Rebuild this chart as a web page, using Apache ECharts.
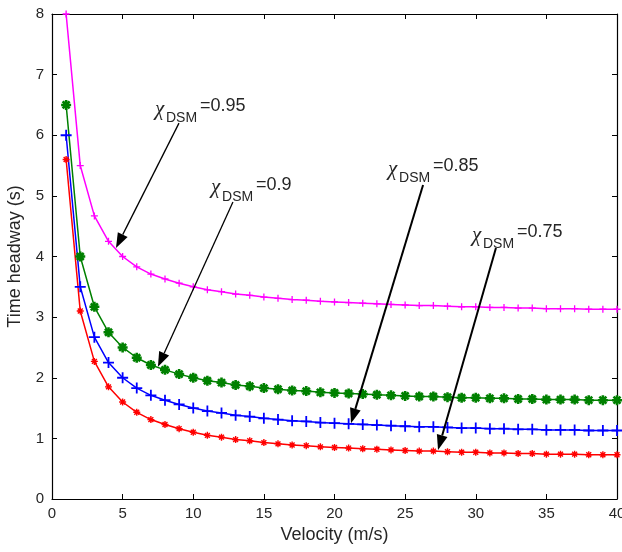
<!DOCTYPE html>
<html>
<head>
<meta charset="utf-8">
<script src="https://cdn.jsdelivr.net/npm/echarts@6/dist/echarts.min.js"></script>
<style>html,body{margin:0;padding:0;background:#fff;}#c{width:622px;height:552px;}</style>
</head>
<body>
<div id="c"></div>
<script>
// Velocity (m/s)
const velocity = [1,2,3,4,5,6,7,8,9,10,11,12,13,14,15,16,17,18,19,20,21,22,23,24,25,26,27,28,29,30,31,32,33,34,35,36,37,38,39,40];
// Time headway (s), chi_DSM = 0.95 (magenta)
const h095 = [8.00,5.50,4.67,4.25,4.00,3.83,3.71,3.63,3.56,3.50,3.45,3.42,3.38,3.36,3.33,3.31,3.29,3.28,3.26,3.25,3.24,3.23,3.22,3.21,3.20,3.19,3.19,3.18,3.17,3.17,3.16,3.16,3.15,3.15,3.14,3.14,3.14,3.13,3.13,3.13];
// chi_DSM = 0.9 (green)
const h090 = [6.50,4.00,3.17,2.75,2.50,2.33,2.21,2.13,2.06,2.00,1.95,1.92,1.88,1.86,1.83,1.81,1.79,1.78,1.76,1.75,1.74,1.73,1.72,1.71,1.70,1.69,1.69,1.68,1.67,1.67,1.66,1.66,1.65,1.65,1.64,1.64,1.64,1.63,1.63,1.63];
// chi_DSM = 0.85 (blue)
const h085 = [6.00,3.50,2.67,2.25,2.00,1.83,1.71,1.63,1.56,1.50,1.45,1.42,1.38,1.36,1.33,1.31,1.29,1.28,1.26,1.25,1.24,1.23,1.22,1.21,1.20,1.19,1.19,1.18,1.17,1.17,1.16,1.16,1.15,1.15,1.14,1.14,1.14,1.13,1.13,1.13];
// chi_DSM = 0.75 (red)
const h075 = [5.60,3.10,2.27,1.85,1.60,1.43,1.31,1.23,1.16,1.10,1.05,1.02,0.98,0.96,0.93,0.91,0.89,0.88,0.86,0.85,0.84,0.83,0.82,0.81,0.80,0.79,0.79,0.78,0.77,0.77,0.76,0.76,0.75,0.75,0.74,0.74,0.74,0.73,0.73,0.73];

// Annotations: label, label anchor [x,y], arrow start [x,y], arrow tip [x,y] (data units)
const annLabels = ['=0.95', '=0.9', '=0.85', '=0.75'];
const annText = [[7.29, 6.48], [11.26, 5.18], [23.79, 5.49], [29.73, 4.40]];
const annStart = [[8.99, 6.20], [12.81, 4.90], [26.27, 5.18], [31.43, 4.14]];
const annTip = [[4.53, 4.14], [7.50, 2.18], [21.17, 1.25], [27.33, 0.81]];
const annWidth = [1.3, 1.3, 2, 2];

const FONT = '"Liberation Sans", Arial, sans-serif';
const plusPath = 'path://M5,0L5,10M0,5L10,5';
const starPath = 'path://M5,0L5,10M0,5L10,5M1.5,1.5L8.5,8.5M8.5,1.5L1.5,8.5';

function pairs(ys) { return velocity.map((v, i) => [v, ys[i]]); }

function mkSeries(name, ys, color, symbol, size, bw) {
  return {
    name: name, type: 'line', data: pairs(ys),
    xAxisIndex: 0, yAxisIndex: 0,
    symbol: symbol, symbolSize: size, showSymbol: true,
    lineStyle: { color: color, width: 1.5 },
    itemStyle: { color: color, borderColor: color, borderWidth: bw },
    animation: false, z: 3
  };
}

const chart = echarts.init(document.getElementById('c'), null, { renderer: 'canvas' });
const tickCommon = { inside: true, length: 5, lineStyle: { color: '#000', width: 1 } };
const option = {
  backgroundColor: '#fff',
  animation: false,
  grid: { left: 52, right: 5, top: 14, bottom: 53, containLabel: false, outerBoundsMode: 'none' },
  xAxis: [
    { type: 'value', min: 0, max: 40, interval: 5, position: 'bottom',
      name: 'Velocity (m/s)', nameLocation: 'middle', nameGap: 27,
      nameTextStyle: { fontFamily: FONT, fontSize: 18, color: '#262626' },
      axisLine: { show: true, onZero: false, lineStyle: { color: '#000', width: 1.2 } },
      axisTick: tickCommon, splitLine: { show: false },
      axisLabel: { fontFamily: FONT, fontSize: 15, color: '#262626', margin: 7 } },
    { type: 'value', min: 0, max: 40, interval: 5, position: 'top',
      axisLine: { show: true, onZero: false, lineStyle: { color: '#000', width: 1.2 } },
      axisTick: tickCommon, splitLine: { show: false }, axisLabel: { show: false } }
  ],
  yAxis: [
    { type: 'value', min: 0, max: 8, interval: 1, position: 'left',
      name: 'Time headway (s)', nameLocation: 'middle', nameGap: 28,
      nameTextStyle: { fontFamily: FONT, fontSize: 18, color: '#262626' },
      axisLine: { show: true, onZero: false, lineStyle: { color: '#000', width: 1.2 } },
      axisTick: tickCommon, splitLine: { show: false },
      axisLabel: { fontFamily: FONT, fontSize: 15, color: '#262626', margin: 8 } },
    { type: 'value', min: 0, max: 8, interval: 1, position: 'right',
      axisLine: { show: true, onZero: false, lineStyle: { color: '#000', width: 1.2 } },
      axisTick: tickCommon, splitLine: { show: false }, axisLabel: { show: false } }
  ],
  series: [
    mkSeries('0.95', h095, '#ff00ff', plusPath, 7, 1.3),
    mkSeries('0.9', h090, '#008000', starPath, 10, 2.6),
    mkSeries('0.85', h085, '#0000ff', plusPath, 11, 1.8),
    mkSeries('0.75', h075, '#ff0000', starPath, 7, 1.4)
  ]
};
chart.setOption(option);

function px(p) { return chart.convertToPixel({ gridIndex: 0 }, p); }
const elements = [];
for (let i = 0; i < annLabels.length; i++) {
  const s = px(annStart[i]), t = px(annTip[i]), a = px(annText[i]);
  const dx = t[0] - s[0], dy = t[1] - s[1];
  const len = Math.sqrt(dx * dx + dy * dy);
  const ux = dx / len, uy = dy / len;
  const headL = 15, headW = 5.5;
  const bx = t[0] - ux * headL, by = t[1] - uy * headL;
  elements.push({ type: 'line', z: 10, shape: { x1: s[0], y1: s[1], x2: bx, y2: by },
    style: { stroke: '#000', lineWidth: annWidth[i] } });
  elements.push({ type: 'polygon', z: 10, shape: { points: [[t[0], t[1]], [bx - uy * headW, by + ux * headW], [bx + uy * headW, by - ux * headW]] },
    style: { fill: '#000' } });
  elements.push({ type: 'text', z: 11, x: a[0], y: a[1] + 3,
    style: { text: 'χ', font: 'italic 21px "Liberation Serif", serif', fill: '#262626', textVerticalAlign: 'middle', verticalAlign: 'middle' } });
  elements.push({ type: 'text', z: 11, x: a[0] + 11, y: a[1] + 12,
    style: { text: 'DSM', font: '14px ' + FONT, fill: '#262626', textVerticalAlign: 'middle', verticalAlign: 'middle' } });
  elements.push({ type: 'text', z: 11, x: a[0] + 45, y: a[1],
    style: { text: annLabels[i], font: '18px ' + FONT, fill: '#262626', textVerticalAlign: 'middle', verticalAlign: 'middle' } });
}
chart.setOption({ graphic: { elements: elements } });
</script>
</body>
</html>
